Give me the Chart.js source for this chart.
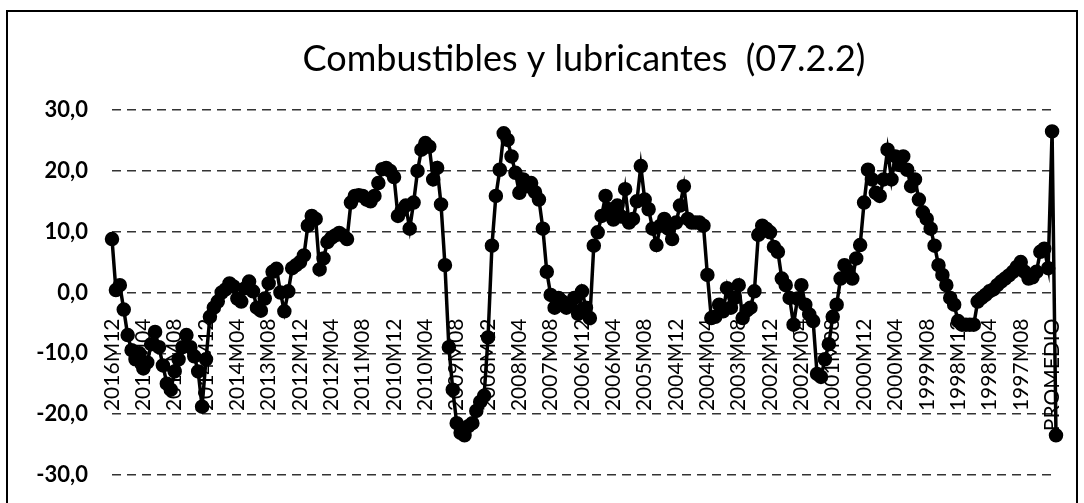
<!DOCTYPE html>
<html>
<head>
<meta charset="utf-8">
<script src="https://cdn.jsdelivr.net/npm/chart.js@4.4.1/dist/chart.umd.min.js"></script>
<style>
  html, body { margin: 0; padding: 0; background: #fff; }
  #marco { position: absolute; left: 6px; top: 10px; width: 1068px; height: 500px; border: 2px solid #000; }
  #grafico { display: block; }
</style>
</head>
<body>
<div id="marco"><canvas id="grafico" width="1068" height="500"></canvas></div>
<script>
// series mensual, de 2016M12 hacia atras hasta 1997M01, y al final el promedio
const valores = [
  8.8, 0.4, 1.2, -2.8, -7, -9.5, -11, -10, -12.5, -11.5, -8.5, -6.5,
  -9, -12, -15, -16, -13, -11, -9, -7, -9, -10.5, -13, -18.8,
  -11, -4, -2.5, -1.5, 0, 0.5, 1.5, 1, -1, -1.5, 0.7, 1.8,
  0.2, -2.5, -3, -1, 1.5, 3.4, 3.9, 0, -3.1, 0.2, 4, 4.5,
  5, 6.1, 11, 12.6, 12.1, 3.8, 5.6, 8.3, 9, 9.4, 9.8, 9.4,
  8.8, 14.8, 15.9, 16, 15.9, 15.3, 15, 15.9, 18, 20.3, 20.5, 20,
  19, 12.6, 13.5, 14.3, 10.5, 14.8, 20, 23.5, 24.6, 24, 18.6, 20.5,
  14.5, 4.5, -9, -16, -21.5, -23.1, -23.5, -22, -21.5, -19.5, -18, -17,
  -7.4, 7.7, 15.9, 20.2, 26.2, 25.1, 22.4, 19.7, 16.4, 18.6, 17.5, 18,
  16.5, 15.3, 10.5, 3.4, -0.4, -2.5, -0.9, -1.5, -2.5, -2, -0.9, -3.5,
  0.2, -2.5, -4.2, 7.7, 9.9, 12.6, 15.9, 13.7, 12, 14.3, 12.5, 17,
  11.5, 12.1, 15, 20.8, 15.3, 13.7, 10.5, 7.8, 11, 12.1, 10.5, 8.8,
  11.5, 14.3, 17.5, 12.1, 11.5, 11.5, 11.5, 11, 2.9, -4.2, -4, -2,
  -3.1, 0.7, -2.5, -0.9, 1.2, -4.2, -3, -2.5, 0.2, 9.5, 11, 10.5,
  9.9, 7.5, 6.7, 2.3, 1.2, -0.9, -5.3, -1, 1.2, -2, -3.6, -4.7,
  -13.4, -13.9, -11, -8.5, -4, -2, 2.3, 4.5, 3.5, 2.3, 5.6, 7.8,
  14.8, 20.2, 18.6, 16.4, 15.9, 18.6, 23.5, 18.6, 22.4, 21, 22.4, 20.2,
  17.5, 18.6, 15.3, 13.2, 12.1, 10.5, 7.7, 4.5, 2.9, 1.2, -0.9, -2,
  -4.7, -5.3, -5.3, -5.3, -5.3, -1.5, -0.9, -0.4, 0.2, 0.5, 1.2, 1.8,
  2.3, 2.8, 3.4, 4.2, 5, 3.4, 2.3, 2.5, 3.4, 6.7, 7.2, 4,
  26.5, -23.5
];

// categorias: meses 2016M12 ... 1997M01, luego PROMEDIO
const meses = [];
for (let k = 0; k < 240; k++) {
  const n = 2016 * 12 + 11 - k;
  const anio = Math.floor(n / 12);
  const mes = (n % 12) + 1;
  meses.push(anio + 'M' + (mes < 10 ? '0' + mes : mes));
}
const categorias = meses.concat(['PROMEDIO', '']);

const yTicks = { min: -30, max: 30, paso: 10 };
const saltoEtiqueta = 8;

const ctx = document.getElementById('grafico').getContext('2d');

new Chart(ctx, {
  type: 'line',
  data: {
    labels: categorias,
    datasets: [{
      label: 'Combustibles y lubricantes',
      data: valores,
      borderColor: '#000',
      backgroundColor: '#000',
      borderWidth: 3.5,
      pointRadius: 5.5,
      pointBackgroundColor: '#000',
      pointBorderColor: '#000',
      tension: 0,
      clip: 10
    }]
  },
  options: {
    responsive: false,
    animation: false,
    layout: { padding: { left: 8, right: 20, top: 0, bottom: 34 } },
    plugins: {
      legend: { display: false },
      tooltip: { enabled: false },
      title: {
        display: true,
        fullSize: false,
        text: 'Combustibles y lubricantes  (07.2.2)',
        color: '#000',
        font: { family: 'Lato', size: 36, weight: 'normal' },
        padding: { top: 26, bottom: 29 }
      }
    },
    scales: {
      x: {
        position: { y: 0 },
        offset: false,
        afterFit: function (s) { s.paddingLeft = 0; s.paddingRight = 0; },
        grid: { display: false },
        border: { display: false },
        ticks: {
          autoSkip: false,
          maxRotation: 90,
          minRotation: 90,
          padding: 18,
          color: '#000',
          font: { family: 'Lato', size: 21 },
          callback: function (v, i) {
            return i % saltoEtiqueta === 0 ? this.getLabelForValue(v) : null;
          }
        }
      },
      y: {
        min: yTicks.min,
        max: yTicks.max,
        afterFit: function (s) { s.width = 96; },
        grid: { color: '#333', lineWidth: 1.5, drawTicks: false },
        border: { display: false, dash: [9, 6] },
        ticks: {
          stepSize: yTicks.paso,
          padding: 24,
          color: '#000',
          font: { family: 'Lato', size: 22, weight: 'bold' },
          callback: function (v) { return v.toFixed(1).replace('.', ','); }
        }
      }
    }
  }
});
</script>
</body>
</html>
